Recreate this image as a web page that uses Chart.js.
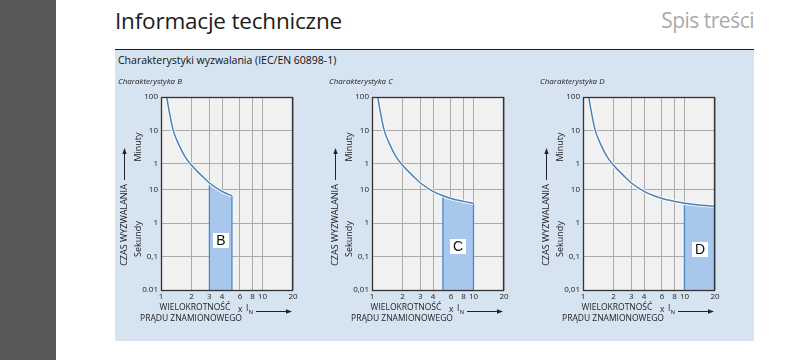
<!DOCTYPE html>
<html>
<head>
<meta charset="utf-8">
<script src="https://cdn.jsdelivr.net/npm/chart.js@4.4.1/dist/chart.umd.min.js"></script>
<style>
  body { margin: 0; width: 800px; height: 360px; background: #fff; position: relative; overflow: hidden; font-family: "Open Sans", sans-serif; }
  #stripe { position: absolute; left: 0; top: 0; width: 56px; height: 360px; background: #585858; }
  #title { position: absolute; left: 115px; top: 5px; font-size: 22.5px; letter-spacing: -0.2px; color: #1c1c1c; white-space: nowrap; }
  #toc { position: absolute; right: 46px; top: 6px; font-size: 21px; letter-spacing: -0.5px; color: #aaa; white-space: nowrap; }
  #panel { position: absolute; left: 115px; top: 49px; width: 639px; height: 291px; background: #d6e3f1; border-top: 1.5px solid #1e1e28; }
  #subtitle { position: absolute; left: 118px; top: 53px; font-size: 10.5px; color: #111; white-space: nowrap; }
  canvas { position: absolute; top: 70px; }
</style>
</head>
<body>
<div id="stripe"></div>
<div id="title">Informacje techniczne</div>
<div id="toc">Spis treści</div>
<div id="panel"></div>
<div id="subtitle">Charakterystyki wyzwalania (IEC/EN 60898-1)</div>
<canvas id="chartB" width="190" height="265" style="left:110px"></canvas>
<canvas id="chartC" width="190" height="265" style="left:321px"></canvas>
<canvas id="chartD" width="190" height="265" style="left:532px"></canvas>

<script>
// ---------------- Data ----------------
// trip curve: multiple of rated current -> trip time in seconds
const multiples = [1.14, 1.2, 1.32, 1.5, 1.7, 2, 2.5, 3, 4, 5, 6, 8, 10, 15, 20];
const tripSeconds = [6000, 2400, 600, 225, 106, 54, 27, 16, 9, 6.6, 5.5, 4.5, 3.95, 3.45, 3.2];

const xTickValues = [1, 2, 3, 4, 6, 8, 10, 20];
const yTickValues = [0.01, 0.1, 1, 10, 60, 600, 6000];
const yTickLabels = ['0,01', '0,1', '1', '10', '1', '10', '100'];
const firstTickLabels = ['0.01', '0,01', '0,01'];

const curveNames = ['B', 'C', 'D'];
const bandStart = [3, 5, 10];
const bandEnd = [5, 10, 20];

// ---------------- Helpers ----------------
const Y_MIN = 0.01, Y_MAX = 6000;
const tickFont = { family: '"Open Sans", sans-serif', size: 8 };

function curveUpTo(end) {
    return multiples.map((m, i) => ({ x: m, y: tripSeconds[i] })).filter(p => p.x <= end);
}

function curveBetween(a, b) {
    return multiples.map((m, i) => ({ x: m, y: tripSeconds[i] })).filter(p => p.x >= a && p.x <= b);
}

function timeAt(m) {
    return tripSeconds[multiples.indexOf(m)];
}

// ---------------- Plugins ----------------
const plotFrame = {
    id: 'plotFrame',
    beforeDraw(chart) {
        const { ctx, chartArea: a } = chart;
        ctx.save();
        ctx.fillStyle = '#f1f1f1';
        ctx.fillRect(a.left, a.top, a.width, a.height);
        ctx.restore();
    },
    afterDraw(chart) {
        const { ctx, chartArea: a } = chart;
        ctx.save();
        ctx.strokeStyle = '#333';
        ctx.lineWidth = 1.3;
        ctx.strokeRect(a.left + 0.5, a.top + 0.5, a.width - 1, a.height);
        ctx.restore();
    }
};

function arrow(ctx, x1, y1, x2, y2) {
    ctx.beginPath();
    ctx.moveTo(x1, y1);
    ctx.lineTo(x2, y2);
    ctx.stroke();
    const ang = Math.atan2(y2 - y1, x2 - x1);
    ctx.beginPath();
    ctx.moveTo(x2 + Math.cos(ang) * 2, y2 + Math.sin(ang) * 2);
    ctx.lineTo(x2 - Math.cos(ang) * 4 + Math.sin(ang) * 2.2, y2 - Math.sin(ang) * 4 - Math.cos(ang) * 2.2);
    ctx.lineTo(x2 - Math.cos(ang) * 4 - Math.sin(ang) * 2.2, y2 - Math.sin(ang) * 4 + Math.cos(ang) * 2.2);
    ctx.closePath();
    ctx.fill();
}

function vText(ctx, text, x, y) {
    ctx.save();
    ctx.translate(x, y);
    ctx.rotate(-Math.PI / 2);
    ctx.textAlign = 'center';
    ctx.fillText(text, 0, 0);
    ctx.restore();
}

const axisTexts = {
    id: 'axisTexts',
    afterDraw(chart, args, opts) {
        const { ctx } = chart;
        const xs = chart.scales.x, ys = chart.scales.y;
        ctx.save();
        ctx.fillStyle = '#222';
        ctx.strokeStyle = '#222';
        ctx.lineWidth = 1;

        // chart name
        ctx.font = 'italic 8px "Open Sans", sans-serif';
        ctx.textAlign = 'left';
        ctx.textBaseline = 'middle';
        ctx.fillText('Charakterystyka ' + opts.name, 8, 12);

        // y titles
        ctx.font = '9px "Open Sans", sans-serif';
        vText(ctx, 'CZAS WYZWALANIA', 14, 155);
        arrow(ctx, 14.5, 110, 14.5, 80);
        vText(ctx, 'Minuty', 28, 77);
        vText(ctx, 'Sekundy', 28, 169);

        // x titles
        ctx.font = '8.5px "Open Sans", sans-serif';
        ctx.textAlign = 'center';
        ctx.fillText('WIELOKROTNOŚĆ', 85, 238);
        ctx.fillText('PRĄDU ZNAMIONOWEGO', 81, 249);
        ctx.textAlign = 'left';
        ctx.fillText('x', 128, 240);
        ctx.fillText('I', 136, 239);
        ctx.font = '6px "Open Sans", sans-serif';
        ctx.fillText('N', 138.5, 242);
        arrow(ctx, 146, 241.5, 180, 241.5);

        // band label box
        const a = opts.from, b = opts.to;
        const cx = xs.getPixelForValue(Math.sqrt(a * b));
        const cy = ys.getPixelForValue(opts.labelAt);
        ctx.fillStyle = '#fff';
        ctx.fillRect(Math.round(cx - 8), Math.round(cy - 8), 16, 15);
        ctx.fillStyle = '#111';
        ctx.font = '14px "Liberation Sans", Arial, sans-serif';
        ctx.textAlign = 'center';
        ctx.textBaseline = 'middle';
        ctx.fillText(opts.name, Math.round(cx), Math.round(cy));
        ctx.restore();
    }
};

// ---------------- Build charts ----------------
const labelHeights = [0.3, 0.2, 0.16];

function buildChart(idx) {
    const name = curveNames[idx];
    const a = bandStart[idx], b = bandEnd[idx];
    const ctx = document.getElementById('chart' + name).getContext('2d');
    const tickLabels = yTickLabels.slice();
    tickLabels[0] = firstTickLabels[idx];

    return new Chart(ctx, {
        type: 'line',
        data: {
            datasets: [
                {
                    data: curveUpTo(b),
                    borderColor: '#4d82b9',
                    borderWidth: 1.5,
                    pointRadius: 0,
                    cubicInterpolationMode: 'monotone',
                    fill: false
                },
                {
                    data: curveUpTo(b),
                    borderColor: 'rgba(255,255,255,0.8)',
                    borderWidth: 3.6,
                    pointRadius: 0,
                    cubicInterpolationMode: 'monotone',
                    fill: false
                },
                {
                    data: [{ x: a, y: Y_MIN }, { x: a, y: timeAt(a) }],
                    borderColor: '#4f86c2',
                    borderWidth: 1.3,
                    pointRadius: 0,
                    fill: false
                },
                {
                    data: [{ x: b, y: Y_MIN }, { x: b, y: timeAt(b) }],
                    borderColor: '#4f86c2',
                    borderWidth: 1.3,
                    pointRadius: 0,
                    fill: false
                },
                {
                    data: curveBetween(a, b),
                    borderWidth: 0,
                    borderColor: 'rgba(0,0,0,0)',
                    backgroundColor: '#a7c8ec',
                    pointRadius: 0,
                    cubicInterpolationMode: 'monotone',
                    fill: 'start'
                }
            ]
        },
        options: {
            responsive: false,
            animation: false,
            events: [],
            layout: { padding: { top: 27, right: 7, bottom: 30, left: 0 } },
            plugins: {
                legend: { display: false },
                tooltip: { enabled: false },
                axisTexts: { name: name, from: a, to: b, labelAt: labelHeights[idx] }
            },
            scales: {
                x: {
                    type: 'logarithmic',
                    min: 1,
                    max: 20,
                    afterBuildTicks: s => { s.ticks = xTickValues.map(v => ({ value: v })); },
                    afterFit: s => { s.height = 15; },
                    ticks: { font: tickFont, color: '#222', padding: 2, autoSkip: false, maxRotation: 0, callback: v => String(v) },
                    grid: { color: '#ababab', drawTicks: false },
                    border: { display: false }
                },
                y: {
                    type: 'logarithmic',
                    min: Y_MIN,
                    max: Y_MAX,
                    afterBuildTicks: s => { s.ticks = yTickValues.map(v => ({ value: v })); },
                    afterFit: s => { s.width = 51; },
                    ticks: { font: tickFont, color: '#222', padding: 3, autoSkip: false, callback: (v, i) => tickLabels[i] },
                    grid: { color: '#ababab', drawTicks: false },
                    border: { display: false }
                }
            }
        },
        plugins: [plotFrame, axisTexts]
    });
}

curveNames.forEach((n, i) => buildChart(i));
</script>
</body>
</html>
